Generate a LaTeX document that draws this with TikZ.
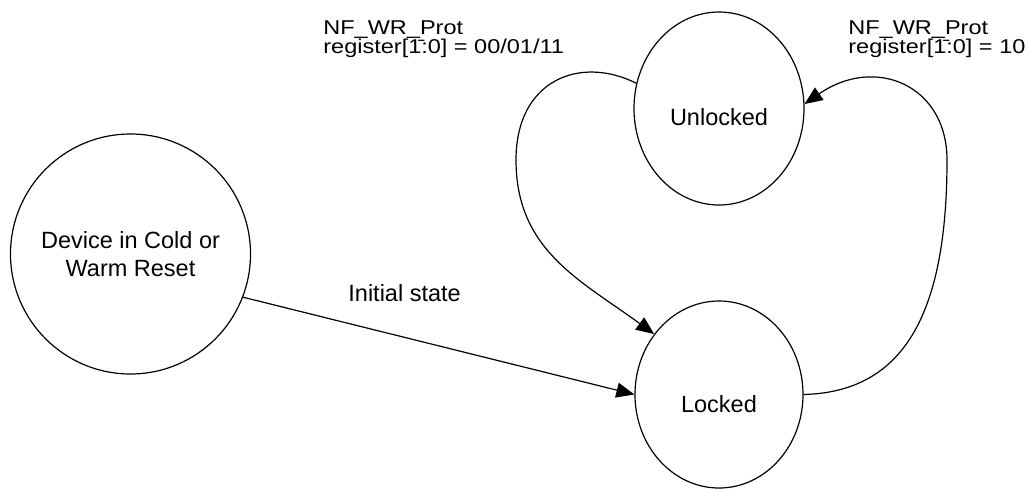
\documentclass[tikz,border=0pt]{standalone}
\usepackage{fontspec}
\setmainfont{Liberation Sans}
\usepackage{tikz}
\usetikzlibrary{arrows.meta,shapes.geometric}

\tikzset{
  txt/.style={font=\fontsize{11.75}{14}\selectfont, inner sep=0pt},
  statenode/.style={draw, ellipse, line width=0.6pt, inner sep=0pt, txt},
  trans/.style={-{Triangle[length=9pt,width=7.5pt]}, line width=0.6pt},
}
\newcommand{\condlabel}[1]{\scalebox{1}[0.85]{\renewcommand{\arraystretch}{0.67}\begin{tabular}[t]{@{}l@{}}NF\_WR\_Prot\\ register[\={1}:0] = #1\end{tabular}}}

\begin{document}
\begin{tikzpicture}[x=0.5pt,y=-0.5pt]
        \useasboundingbox (0,0) rectangle (1029,489);
        \node[statenode, circle, minimum size=120pt, align=center] (dev) at (130.5,254) {Device in Cold or\\Warm Reset};
        \node[statenode, minimum width=85pt, minimum height=96.5pt, text height=17pt, text depth=0pt] (unl) at (719,108.5) {Unlocked};
        \node[statenode, minimum width=84pt, minimum height=93.5pt, text height=18pt, text depth=0pt] (lock) at (719,394.5) {Locked};
        \draw[trans] (dev.-21) -- (lock.west);
        \node[txt, anchor=base west] (init) at (348,301) {Initial state};
        \draw[trans] (unl.163.7) .. controls (580,55) and (516,80) .. (516,160)
                .. controls (516,250) and (580,280) .. (lock.137);
        \draw[trans] (lock.east) .. controls (900,392) and (947,320) .. (947,160)
                .. controls (947,85) and (875,55) .. (unl.3);
        \node[txt, anchor=base west] (lockcond) at (323,34) {\condlabel{00/01/11}};
        \node[txt, anchor=base west] (unlcond) at (848,34) {\condlabel{10}};
    \end{tikzpicture}
\end{document}
